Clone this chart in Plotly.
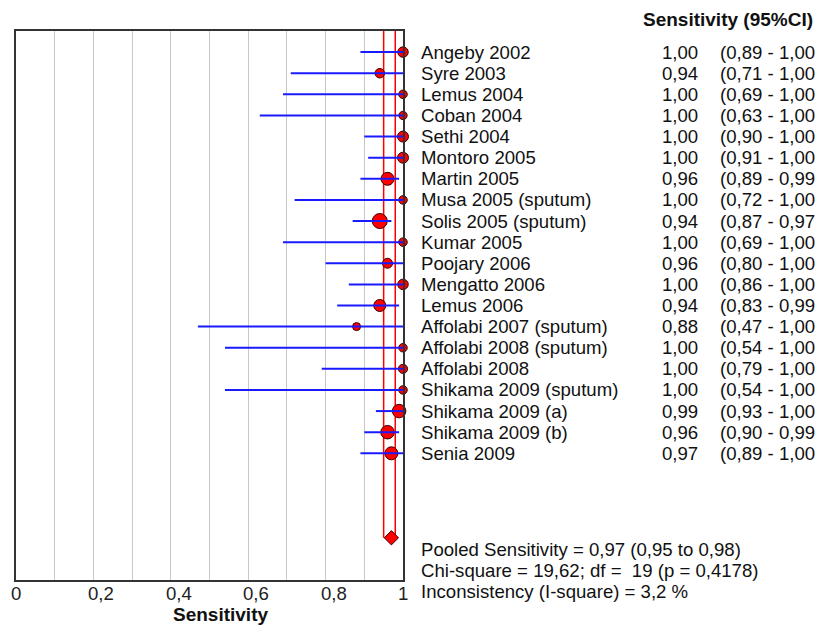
import plotly.graph_objects as go

studies = ["Angeby 2002", "Syre 2003", "Lemus 2004", "Coban 2004", "Sethi 2004",
           "Montoro 2005", "Martin 2005", "Musa 2005 (sputum)", "Solis 2005 (sputum)",
           "Kumar 2005", "Poojary 2006", "Mengatto 2006", "Lemus 2006",
           "Affolabi 2007 (sputum)", "Affolabi 2008 (sputum)", "Affolabi 2008",
           "Shikama 2009 (sputum)", "Shikama 2009 (a)", "Shikama 2009 (b)", "Senia 2009"]
sens = [1.00, 0.94, 1.00, 1.00, 1.00, 1.00, 0.96, 1.00, 0.94, 1.00,
        0.96, 1.00, 0.94, 0.88, 1.00, 1.00, 1.00, 0.99, 0.96, 0.97]
ci_low = [0.89, 0.71, 0.69, 0.63, 0.90, 0.91, 0.89, 0.72, 0.87, 0.69,
          0.80, 0.86, 0.83, 0.47, 0.54, 0.79, 0.54, 0.93, 0.90, 0.89]
ci_high = [1.00, 1.00, 1.00, 1.00, 1.00, 1.00, 0.99, 1.00, 0.97, 1.00,
           1.00, 1.00, 0.99, 1.00, 1.00, 1.00, 1.00, 1.00, 0.99, 1.00]
weights = [10.5, 9.5, 8.5, 8.3, 11, 11, 13, 8.5, 15, 8.5,
           10, 10.5, 12, 8, 8.5, 9.2, 8.5, 13.5, 13.5, 13]

pooled = 0.97
pooled_low = 0.95
pooled_high = 0.98
pooled_text = ["Pooled Sensitivity = 0,97 (0,95 to 0,98)",
               "Chi-square = 19,62; df =  19 (p = 0,4178)",
               "Inconsistency (I-square) = 3,2 %"]
tick_vals = [0, 0.2, 0.4, 0.6, 0.8, 1]
tick_text = ["0", "0,2", "0,4", "0,6", "0,8", "1"]


def fmt(v):
    return f"{v:.2f}".replace(".", ",")


rows = list(range(len(studies)))
pooled_row = len(studies) + 3

FONT = "Liberation Sans, Arial, sans-serif"
FS = 18.6

fig = go.Figure()

# pooled CI vertical lines (behind markers)
for v in (pooled_low, pooled_high):
    fig.add_trace(go.Scatter(x=[v, v], y=[-1, pooled_row], mode="lines",
                             line=dict(color="#ff0000", width=1.5),
                             hoverinfo="skip", showlegend=False))

# study markers
fig.add_trace(go.Scatter(x=sens, y=rows, mode="markers", cliponaxis=False,
                         marker=dict(color="#ff0000", size=weights, opacity=1,
                                     line=dict(color="#3a0000", width=1)),
                         showlegend=False))

# CI lines on top
lx, ly = [], []
for lo, hi, r in zip(ci_low, ci_high, rows):
    lx += [lo, hi, None]
    ly += [r, r, None]
fig.add_trace(go.Scatter(x=lx, y=ly, mode="lines", cliponaxis=False,
                         line=dict(color="#1a1aff", width=2),
                         hoverinfo="skip", showlegend=False))

# pooled diamond
fig.add_trace(go.Scatter(x=[pooled], y=[pooled_row], mode="markers", cliponaxis=False,
                         marker=dict(symbol="diamond", color="#ff0000", size=11, opacity=1,
                                     line=dict(color="#3a0000", width=1)),
                         showlegend=False))

L, R, T, B = 16, 403, 31, 580
W, H = 819, 625
pw = R - L
ph = B - T


def px2x(px):
    return (px - L) / pw


def px2y(py):
    return (B - py) / ph


ann = []
for s, v, lo, hi, r in zip(studies, sens, ci_low, ci_high, rows):
    ann.append(dict(x=px2x(419), xref="paper", y=r, yref="y", text=s,
                    xanchor="left", yanchor="middle", showarrow=False,
                    font=dict(family=FONT, size=FS, color="#111")))
    ann.append(dict(x=px2x(700), xref="paper", y=r, yref="y", text=fmt(v),
                    xanchor="right", yanchor="middle", showarrow=False,
                    font=dict(family=FONT, size=FS, color="#111")))
    # the closing parenthesis falls outside the reference image, so it is not shown
    ann.append(dict(x=px2x(718), xref="paper", y=r, yref="y",
                    text=f"({fmt(lo)} - {fmt(hi)}",
                    xanchor="left", yanchor="middle", showarrow=False,
                    font=dict(family=FONT, size=FS, color="#111")))

ann.append(dict(x=px2x(641), xref="paper", y=px2y(20), yref="paper",
                text="<b>Sensitivity (95%CI)</b>", xanchor="left", yanchor="middle",
                showarrow=False, font=dict(family=FONT, size=19, color="#111")))

for t, py in zip(pooled_text, (549, 570, 591)):
    ann.append(dict(x=px2x(419), xref="paper", y=px2y(py), yref="paper", text=t,
                    xanchor="left", yanchor="middle", showarrow=False,
                    font=dict(family=FONT, size=FS, color="#111")))

for tv, tt in zip(tick_vals, tick_text):
    if tt in ("0", "1"):
        ann.append(dict(x=tv, xref="x", y=px2y(593), yref="paper", text=tt,
                        xanchor="center", yanchor="middle", showarrow=False,
                        font=dict(family=FONT, size=FS, color="#222")))
    else:
        ann.append(dict(x=tv, xref="x", y=px2y(593), yref="paper", text=tt,
                        xanchor="left", yanchor="middle", showarrow=False, xshift=-7,
                        font=dict(family=FONT, size=FS, color="#222")))

ann.append(dict(x=px2x(220), xref="paper", y=px2y(614), yref="paper",
                text="<b>Sensitivity</b>", xanchor="center", yanchor="middle",
                showarrow=False, font=dict(family=FONT, size=19, color="#111")))

fig.update_layout(
    width=W, height=H,
    margin=dict(l=L, r=W - R, t=T, b=H - B, pad=0),
    plot_bgcolor="white", paper_bgcolor="white",
    annotations=ann,
    xaxis=dict(range=[0, 1], showgrid=True, gridcolor="#c8c8c8", gridwidth=1,
               dtick=0.1, tick0=0, showticklabels=False, ticks="",
               showline=True, linecolor="#333", linewidth=1.5, mirror=True,
               zeroline=False),
    yaxis=dict(range=[pooled_row + 2, -1], showgrid=False, showticklabels=False,
               ticks="", showline=True, linecolor="#333", linewidth=1.5,
               mirror=True, zeroline=False),
)

fig.write_html("out.html")
